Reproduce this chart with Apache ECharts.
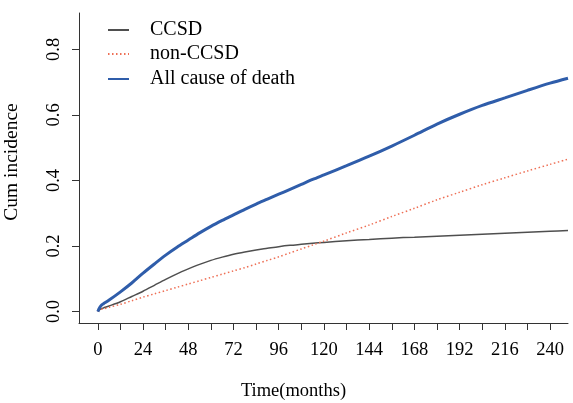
<!DOCTYPE html>
<html>
<head>
<meta charset="utf-8">
<script src="https://cdn.jsdelivr.net/npm/echarts@6/dist/echarts.min.js"></script>
<style>
html,body{margin:0;padding:0;background:#fff;}
#chart{width:573px;height:403px;}
</style>
</head>
<body>
<div id="chart"></div>
<script>
const months = [0,1,2,3,6,12,18,24,30,36,42,48,54,60,66,72,78,84,90,96,102,108,114,120,132,144,156,168,180,192,204,216,228,240,249.5];
const ccsd = [0,0.006,0.009,0.011,0.017,0.030,0.046,0.062,0.080,0.098,0.115,0.130,0.144,0.156,0.166,0.175,0.182,0.188,0.193,0.198,0.202,0.205,0.208,0.211,0.216,0.220,0.224,0.227,0.230,0.233,0.236,0.239,0.242,0.245,0.247];
const nonCcsd = [0,0.005,0.007,0.008,0.013,0.022,0.033,0.044,0.054,0.064,0.074,0.084,0.094,0.104,0.114,0.124,0.134,0.145,0.156,0.167,0.179,0.191,0.203,0.215,0.240,0.264,0.290,0.315,0.341,0.364,0.387,0.408,0.429,0.449,0.465];
const allCause = [0,0.012,0.020,0.024,0.035,0.060,0.087,0.117,0.145,0.172,0.196,0.218,0.240,0.260,0.278,0.295,0.312,0.328,0.343,0.358,0.373,0.388,0.403,0.417,0.445,0.474,0.505,0.538,0.572,0.602,0.629,0.652,0.675,0.697,0.712];
const seriesNames = ['CCSD','non-CCSD','All cause of death'];
const xTicks = [0,12,24,36,48,60,72,84,96,108,120,132,144,156,168,180,192,204,216,228,240];
const xLabels = [0,24,48,72,96,120,144,168,192,216,240];
const yTicks = [0,0.2,0.4,0.6,0.8];

const FONT = '"Liberation Serif", "Times New Roman", serif';
const chart = echarts.init(document.getElementById('chart'), null, {renderer:'canvas'});
const toPairs = arr => months.map((m,i)=>[m, arr[i]]);
const legendTops = [20, 44, 69];

const option = {
  animation: false,
  backgroundColor: '#fff',
  grid: {left: 79, right: 5, top: 13, bottom: 80, containLabel: false, outerBoundsMode: 'none'},
  legend: seriesNames.map((n,i)=>({
    data: [n], left: 107, top: legendTops[i], orient: 'vertical', padding: 0,
    itemWidth: 21, itemHeight: 10,
    itemStyle: {opacity: 0},
    textStyle: {fontFamily: FONT, fontSize: 20, color: '#000', padding: [0,0,0,16]}
  })),
  xAxis: {
    type: 'value', min: -10, max: 249.5,
    name: 'Time(months)', nameLocation: 'middle', nameGap: 59,
    nameTextStyle: {fontFamily: FONT, fontSize: 18.5, color: '#000', padding: [0,60,0,0]},
    axisLine: {show: true, onZero: false, lineStyle: {color: '#333', width: 1}},
    axisTick: {show: true, length: 7, customValues: xTicks, lineStyle: {color: '#333'}},
    axisLabel: {customValues: xLabels, fontFamily: FONT, fontSize: 18.5, color: '#000', margin: 18},
    splitLine: {show: false}
  },
  yAxis: {
    type: 'value', min: -0.035, max: 0.911,
    name: 'Cum incidence', nameLocation: 'middle', nameGap: 57, nameRotate: 90,
    nameTextStyle: {fontFamily: FONT, fontSize: 19.5, color: '#000', padding: [0,0,0,12]},
    axisLine: {show: true, onZero: false, lineStyle: {color: '#333', width: 1}},
    axisTick: {show: true, length: 7, customValues: yTicks, lineStyle: {color: '#333'}},
    axisLabel: {customValues: yTicks, rotate: 90, fontFamily: FONT, fontSize: 18.5, color: '#000', margin: 15,
      formatter: v => v.toFixed(1)},
    splitLine: {show: false}
  },
  series: [
    {name: seriesNames[0], type: 'line', data: toPairs(ccsd), symbol: 'none', smooth: 0.3,
      lineStyle: {color: '#4f4f4f', width: 1.5}, itemStyle: {color: '#4f4f4f'}},
    {name: seriesNames[1], type: 'line', data: toPairs(nonCcsd), symbol: 'none', smooth: 0.3,
      lineStyle: {color: '#EE6F55', width: 1.5, type: [1.5, 2.5]}, itemStyle: {color: '#EE6F55'}},
    {name: seriesNames[2], type: 'line', data: toPairs(allCause), symbol: 'none', smooth: 0.3,
      lineStyle: {color: '#2F5DAA', width: 3}, itemStyle: {color: '#2F5DAA'}}
  ]
};
chart.setOption(option);
</script>
</body>
</html>
